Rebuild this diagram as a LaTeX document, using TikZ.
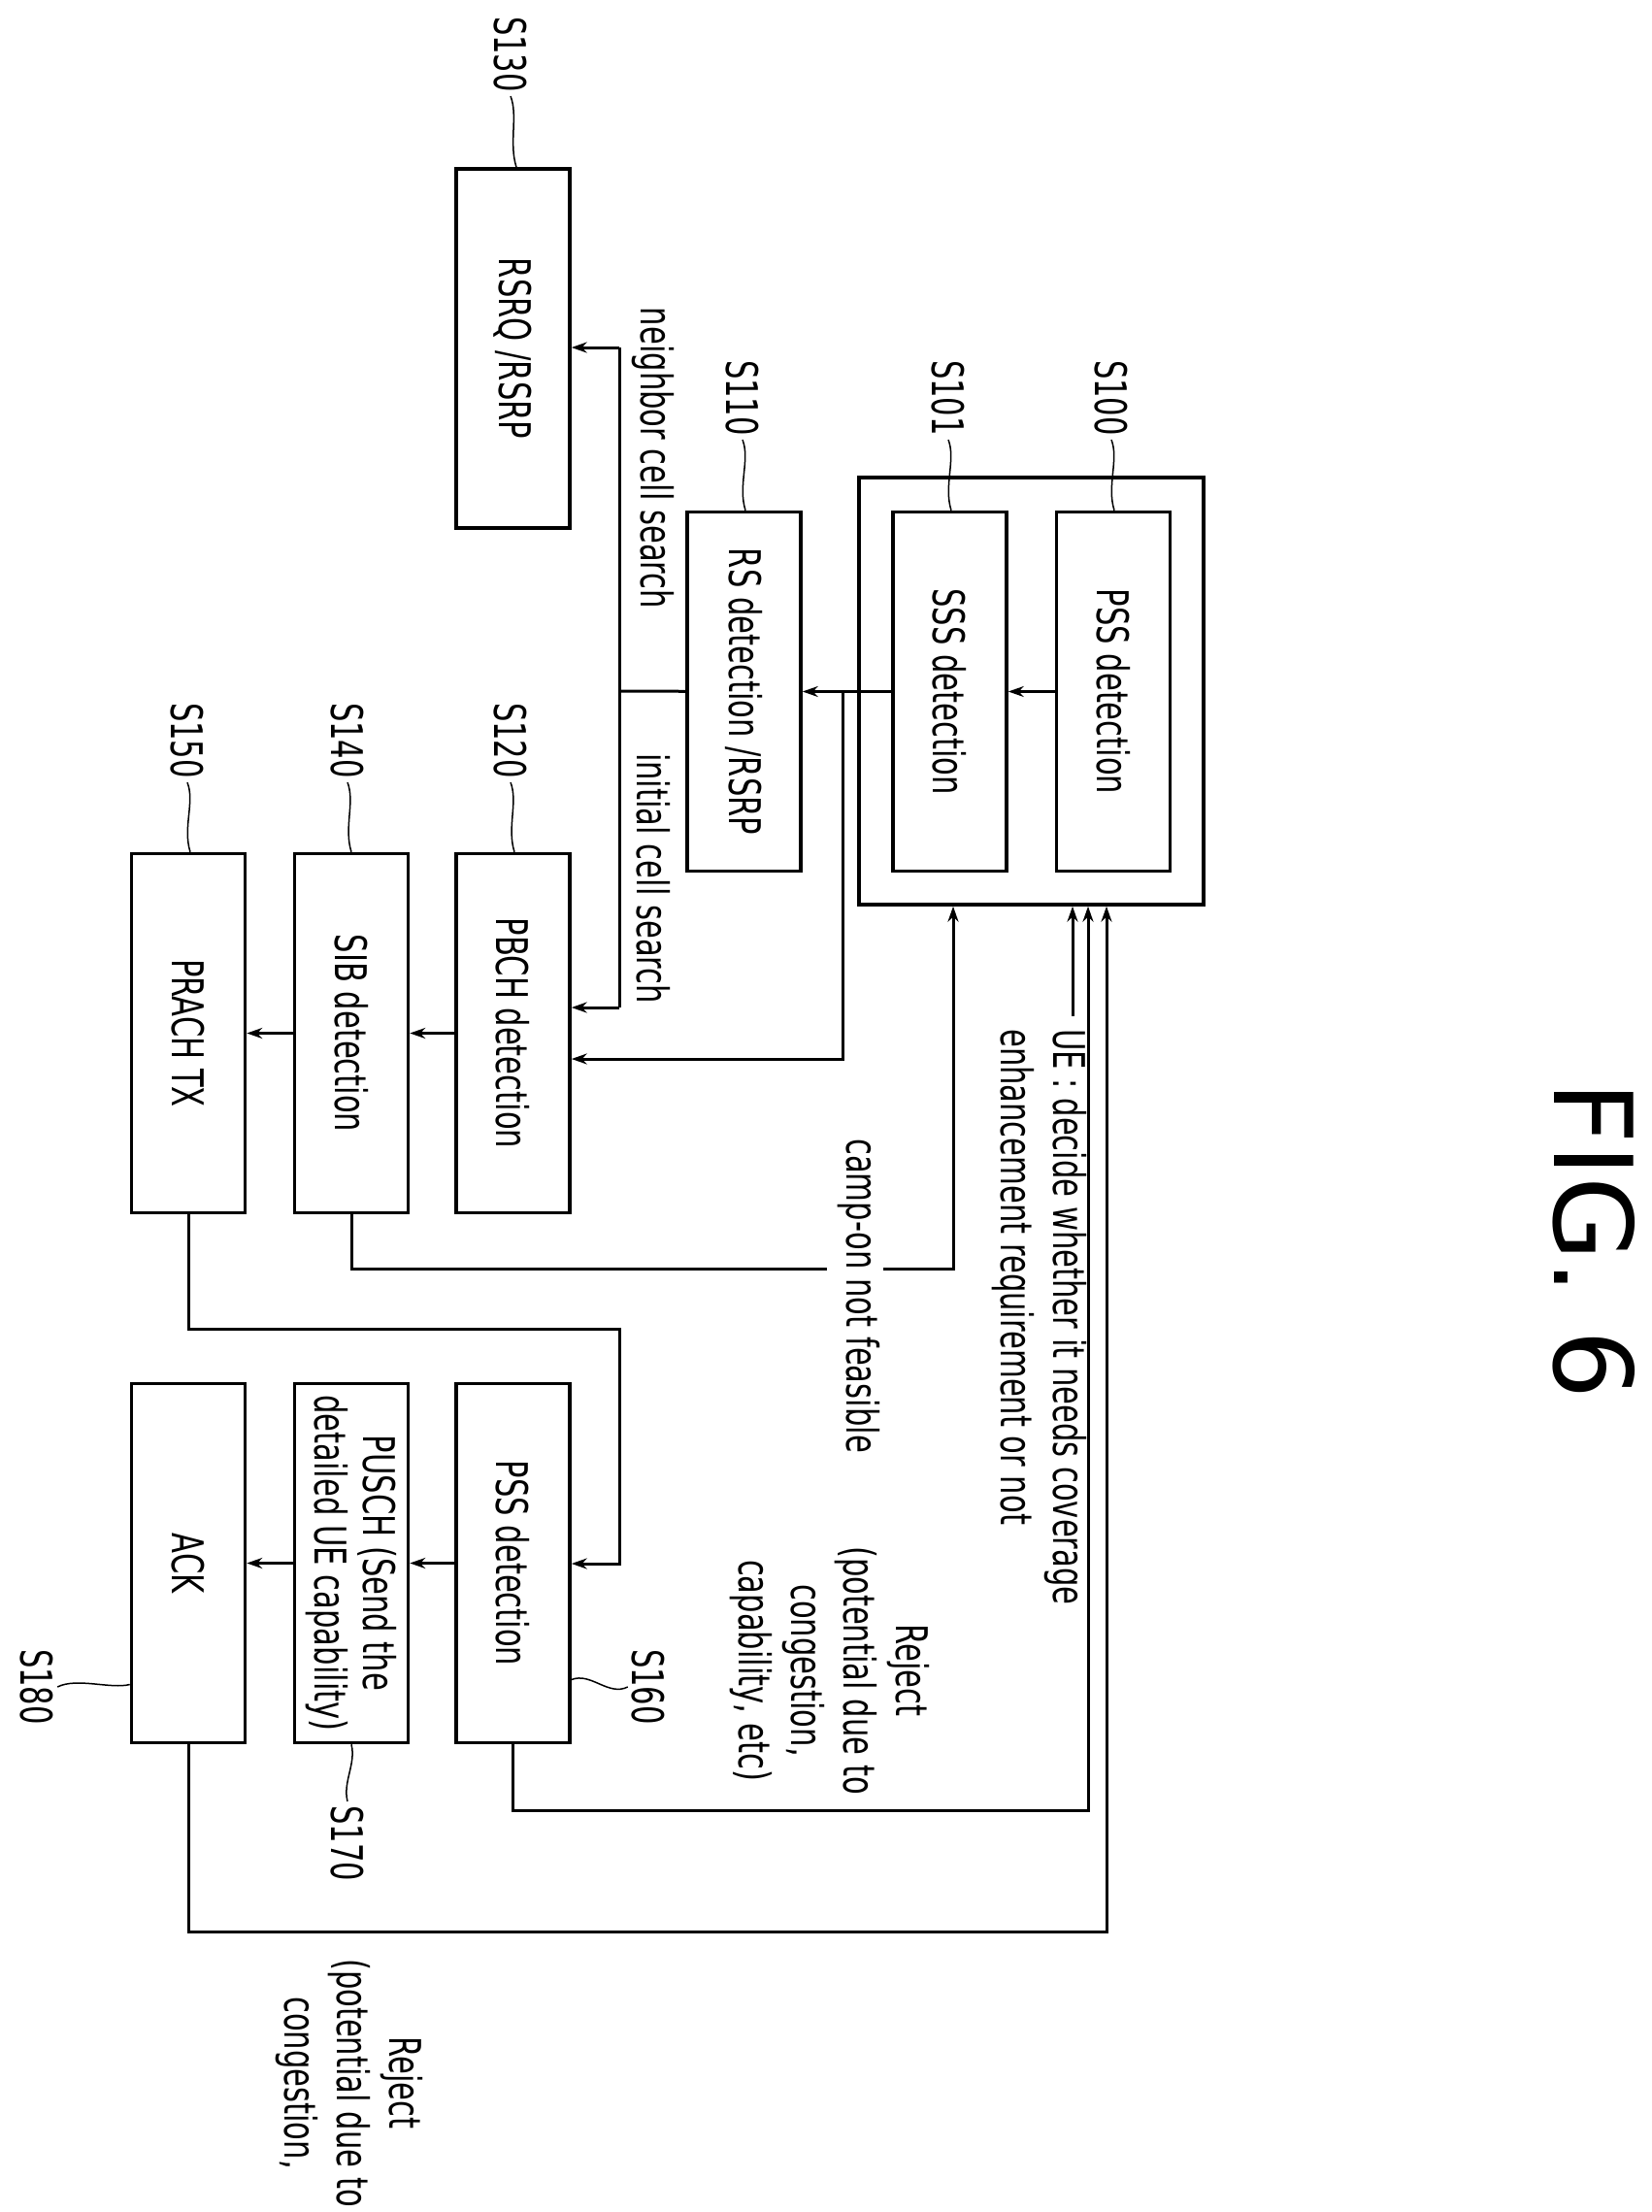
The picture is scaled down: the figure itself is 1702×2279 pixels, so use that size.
\documentclass[tikz,border=0pt]{standalone}
\usepackage{fontspec}
\setmainfont{DejaVu Sans}[FakeStretch=0.68]
\newfontfamily\figfont{DejaVu Sans}
\usetikzlibrary{arrows.meta,calc}
\begin{document}
\begin{tikzpicture}[x=1pt,y=-1pt,
  every node/.style={inner sep=0pt,font=\fontsize{45}{54}\selectfont},
  box/.style={draw,line width=3.5pt,rotate=-90,minimum height=117pt,minimum width=370pt,align=center},
  lbl/.style={rotate=-90,align=center},
  con/.style={line width=3pt},
  arr/.style={con,-{Stealth[length=16pt,width=11pt]}},
  lead/.style={line width=1.5pt}]
\useasboundingbox (0,0) rectangle (1702,2279);
% boxes
\node[box,minimum width=440pt,minimum height=355pt] (outer) at (1062.5,712) {};
\node[box] (rsrq) at (528.5,359) {RSRQ /RSRP};
\node[box] (pss) at (1147,712.5) {PSS detection};
\node[box] (sss) at (978.5,712.5) {SSS detection};
\node[box] (rs) at (766.5,712.5) {RS detection /RSRP};
\node[box] (pbch) at (528.5,1064.5) {PBCH detection};
\node[box] (sib) at (362,1064.5) {SIB detection};
\node[box] (prach) at (194,1064.5) {PRACH TX};
\node[box] (pss2) at (528.5,1610.5) {PSS detection};
\node[box,font=\fontsize{45}{50}\selectfont] (pusch) at (362,1610.5) {PUSCH (Send the\\detailed UE capability)};
\node[box] (ack) at (194,1610.5) {ACK};
% step labels
\node[lbl] (s130) at (526,56) {S130};
\node[lbl] (s110) at (765,410) {S110};
\node[lbl] (s101) at (977,410) {S101};
\node[lbl] (s100) at (1145,410) {S100};
\node[lbl] (s120) at (526,763) {S120};
\node[lbl] (s140) at (358,763) {S140};
\node[lbl] (s150) at (193,763) {S150};
\node[lbl] (s160) at (668,1738) {S160};
\node[lbl] (s180) at (38,1738) {S180};
\node[lbl] (s170) at (358,1899) {S170};
% leaders
\foreach \s/\b/\x in {s130/rsrq/532,s110/rs/768,s101/sss/980,s100/pss/1148,s120/pbch/530,s140/sib/362,s150/prach/196}
  \draw[lead] ($(\s.east)+(0,4)$) .. controls +(8,20) and +(-8,-25) .. (\b.west -| \x,0);
\draw[lead] ($(s160.south)+(-4,0)$) .. controls +(-20,10) and +(20,-8) .. ($(pss2.north)+(0,120)$);
\draw[lead] ($(s180.north)+(4,0)$) .. controls +(20,-10) and +(-20,5) .. ($(ack.south)+(0,125)$);
\draw[lead] ($(s170.west)+(0,-4)$) .. controls +(-5,-20) and +(5,20) .. (pusch.east);
% texts
\node[lbl] (tn) at (673,472) {neighbor cell search};
\node[lbl] (ti) at (673,905) {initial cell search};
\node[lbl] (tc) at (885,1335) {camp-on not feasible};
\node[lbl,anchor=north west,align=left] (tu) at (1120,1060) {UE : decide whether it needs coverage\\enhancement requirement or not};
\node[lbl] (tr1) at (855,1721) {Reject\\(potential due to\\congestion,\\capability, etc)};
\node[lbl] (tr2) at (360,2146) {Reject\\(potential due to\\congestion,};
\node[rotate=-90,font=\figfont\fontsize{112}{120}\selectfont] (fig) at (1642,1278) {FIG. 6};
% coordinates
\coordinate (jb) at (868,712);
\coordinate (jc) at (868,1091);
\coordinate (j1) at (638,712);
\coordinate (jn) at (638,358);
\coordinate (ji) at (638,1038);
\coordinate (c1) at (362,1307);
\coordinate (g1) at (852,1307);
\coordinate (g2) at (910,1307);
\coordinate (c2) at (982,1307);
\coordinate (p1) at (194,1369);
\coordinate (p2) at (638,1369);
\coordinate (p3) at (638,1611);
\coordinate (r1) at (1121,1865);
\coordinate (r2) at (1140,1990);
\coordinate (ue1) at (1105,1047);
% connectors
\draw[arr] (pss) -- (sss);
\draw[arr] (sss) -- (rs);
\draw[arr] (jb) -- (jc) -- (pbch.north |- jc);
\draw[con] (rs) -- (j1);
\draw[con] (jn) -- (ji);
\draw[arr] (jn) -- (rsrq.north |- jn);
\draw[arr] (ji) -- (pbch.north |- ji);
\draw[arr] (pbch) -- (sib);
\draw[arr] (sib) -- (prach);
\draw[con] (sib.east) -- (c1) -- (g1);
\draw[arr] (g2) -- (c2) -- (outer.east -| c2);
\draw[arr] (prach.east) -- (p1) -- (p2) -- (p3) -- (pss2.north |- p3);
\draw[arr] (pss2) -- (pusch);
\draw[arr] (pusch) -- (ack);
\draw[arr] (pss2.east) -- (pss2.east |- r1) -- (r1) -- (outer.east -| r1);
\draw[arr] (ack.east) -- (ack.east |- r2) -- (r2) -- (outer.east -| r2);
\draw[arr] (ue1) -- (outer.east -| ue1);
\end{tikzpicture}
\end{document}
